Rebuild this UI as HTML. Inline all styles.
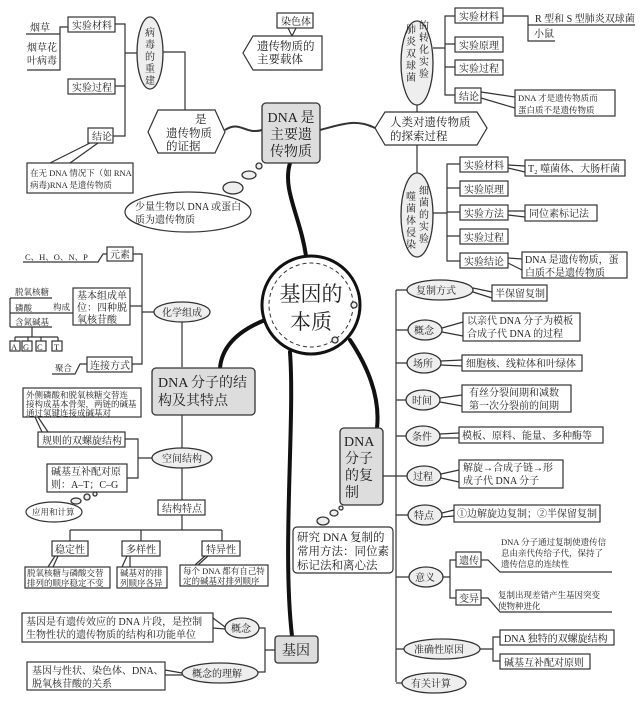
<!DOCTYPE html>
<html><head><meta charset="utf-8"><style>
html,body{margin:0;padding:0;background:#fff}
svg{display:block}
text{font-family:"Liberation Serif","Noto Serif CJK SC",serif;fill:#222}
.b{fill:#fff;stroke:#333;stroke-width:1.2}
.g{fill:#ddd;stroke:#333;stroke-width:1.3}
.e{fill:#eee;stroke:#333;stroke-width:1.3}
.l{fill:none;stroke:#333;stroke-width:1.2}
.t{fill:none;stroke:#111;stroke-width:4;stroke-linecap:round}
.s{font-size:10px}
.xs{font-size:8.5px}
.m{font-size:11.5px}
.L{font-size:14px}
</style></head><body>
<svg width="640" height="702" viewBox="0 0 640 702" xmlns="http://www.w3.org/2000/svg">
<path class="t" d="M290,163 C282,190 300,215 306,256"/>
<path class="t" d="M265,320 C240,330 222,345 220,368"/>
<path class="t" d="M290,352 C295,420 282,550 292,636"/>
<path class="t" d="M350,340 C370,370 380,400 377,428"/>
<path class="l" style="stroke-width:2" d="M225,130 C240,120 245,135 262,130"/>
<path class="l" style="stroke-width:2" d="M320,130 C340,125 355,118 375,128"/>

<circle cx="311" cy="305" r="49" fill="#fff" stroke="#111" stroke-width="3"/>
<circle cx="311" cy="305" r="42" fill="none" stroke="#333" stroke-width="1" stroke-dasharray="4,3"/>
<circle cx="354" cy="305" r="3" class="e"/><circle cx="335" cy="340" r="3" class="e"/>
<text x="311" y="301" text-anchor="middle" style="font-size:21px">基因的</text>
<text x="311" y="329" text-anchor="middle" style="font-size:21px">本质</text>

<text x="30" y="31" class="s">烟草</text><path class="l" d="M26,34H60"/>
<text x="27" y="51" class="s">烟草花</text><text x="27" y="64" class="s">叶病毒</text>
<path class="l" d="M27,70H60V27H68"/>
<rect x="68" y="17" width="47" height="15" class="b"/><text x="72" y="29" class="s">实验材料</text>
<rect x="68" y="79" width="47" height="15" class="b"/><text x="72" y="91" class="s">实验过程</text>
<rect x="88" y="128" width="25" height="15" class="b"/><text x="92" y="140" class="s">结论</text>
<path class="l" d="M115,24H125V136H113M115,86H125M125,53H137"/>
<path class="l" d="M90,143L50,163M98,143L70,163"/>
<rect x="27" y="163" width="106" height="30" class="b"/>
<text x="30" y="176" class="xs">在无 DNA 情况下（如 RNA</text><text x="30" y="188" class="xs">病毒)RNA 是遗传物质</text>
<ellipse cx="150" cy="53" rx="13" ry="36" class="e"/>
<text x="150" y="36" text-anchor="middle" class="s">病</text><text x="150" y="48" text-anchor="middle" class="s">毒</text><text x="150" y="60" text-anchor="middle" class="s">的</text><text x="150" y="72" text-anchor="middle" class="s">重</text><text x="150" y="84" text-anchor="middle" class="s">建</text>
<path class="l" d="M163,52H185V110"/>
<polygon points="158,110 215,110 225,132 215,153 158,153 148,132" class="b"/>
<text x="195" y="123" class="m">是</text><text x="166" y="137" class="m">遗传物质</text><text x="166" y="150" class="m">的证据</text>
<rect x="262" y="103" width="58" height="60" rx="4" class="g"/>
<text x="291" y="122" text-anchor="middle" class="L">DNA 是</text><text x="291" y="139" text-anchor="middle" class="L">主要遗</text><text x="291" y="156" text-anchor="middle" class="L">传物质</text>
<rect x="277" y="13" width="36" height="15" class="b"/><text x="281" y="25" class="s">染色体</text>
<path class="l" d="M288,28L292,36M296,28L292,36"/>
<polygon points="253,36 322,36 322,70 253,70 243,53" class="b"/>
<text x="257" y="50" class="m">遗传物质的</text><text x="257" y="63" class="m">主要载体</text>
<circle cx="259" cy="166" r="3" class="e"/><ellipse cx="249" cy="175" rx="7" ry="4" class="e"/><ellipse cx="233" cy="188" rx="10" ry="6" class="e"/>
<ellipse cx="188" cy="212" rx="63" ry="20" class="b"/>
<text x="135" y="210" class="s">少量生物以 DNA 或蛋白</text><text x="135" y="223" class="s">质为遗传物质</text>

<ellipse cx="417" cy="63" rx="16" ry="42" class="e"/>
<text x="411" y="33" text-anchor="middle" class="s">肺</text><text x="411" y="45" text-anchor="middle" class="s">炎</text><text x="411" y="57" text-anchor="middle" class="s">双</text><text x="411" y="69" text-anchor="middle" class="s">球</text><text x="411" y="81" text-anchor="middle" class="s">菌</text>
<text x="424" y="29" text-anchor="middle" class="s">的</text><text x="424" y="41" text-anchor="middle" class="s">转</text><text x="424" y="53" text-anchor="middle" class="s">化</text><text x="424" y="65" text-anchor="middle" class="s">实</text><text x="424" y="77" text-anchor="middle" class="s">验</text>
<path class="l" d="M433,48H445M455,16H445V95H455M445,44H455M445,67H455"/>
<rect x="455" y="8" width="48" height="15" class="b"/><text x="459" y="20" class="s">实验材料</text>
<rect x="455" y="37" width="48" height="15" class="b"/><text x="459" y="49" class="s">实验原理</text>
<rect x="455" y="60" width="48" height="15" class="b"/><text x="459" y="72" class="s">实验过程</text>
<rect x="455" y="88" width="26" height="15" class="b"/><text x="459" y="100" class="s">结论</text>
<path class="l" d="M503,16H528V41H555M528,25H635"/>
<text x="535" y="22" class="s">R 型和 S 型肺炎双球菌</text><text x="534" y="37" class="s">小鼠</text>
<path class="l" d="M481,92L515,97M481,98L515,108"/>
<rect x="515" y="90" width="100" height="26" class="b"/>
<text x="518" y="101" class="xs">DNA 才是遗传物质而</text><text x="518" y="113" class="xs">蛋白质不是遗传物质</text>
<path class="l" d="M417,105V112M417,145V174"/>
<polygon points="385,112 477,112 487,128 477,145 385,145 375,128" class="b"/>
<text x="390" y="126" class="m">人类对遗传物质</text><text x="390" y="140" class="m">的探索过程</text>
<ellipse cx="417" cy="215" rx="16" ry="42" class="e"/>
<text x="411" y="200" text-anchor="middle" class="s">噬</text><text x="411" y="212" text-anchor="middle" class="s">菌</text><text x="411" y="224" text-anchor="middle" class="s">体</text><text x="411" y="236" text-anchor="middle" class="s">侵</text><text x="411" y="248" text-anchor="middle" class="s">染</text>
<text x="424" y="194" text-anchor="middle" class="s">细</text><text x="424" y="206" text-anchor="middle" class="s">菌</text><text x="424" y="218" text-anchor="middle" class="s">的</text><text x="424" y="230" text-anchor="middle" class="s">实</text><text x="424" y="242" text-anchor="middle" class="s">验</text>
<path class="l" d="M433,213H447M460,164H447V261H460M447,188H460M447,212H460M447,236H460"/>
<rect x="460" y="157" width="48" height="15" class="b"/><text x="464" y="169" class="s">实验材料</text>
<rect x="460" y="181" width="48" height="15" class="b"/><text x="464" y="193" class="s">实验原理</text>
<rect x="460" y="205" width="48" height="15" class="b"/><text x="464" y="217" class="s">实验方法</text>
<rect x="460" y="229" width="48" height="15" class="b"/><text x="464" y="241" class="s">实验过程</text>
<rect x="460" y="253" width="48" height="15" class="b"/><text x="464" y="265" class="s">实验结论</text>
<path class="l" d="M508,165L525,166M508,168L525,172M508,211L525,211M508,215L525,217M508,258L522,259M508,263L522,270"/>
<rect x="525" y="160" width="100" height="16" class="b"/><text x="528" y="172" class="s">T₂ 噬菌体、大肠杆菌</text>
<rect x="525" y="205" width="72" height="16" class="b"/><text x="529" y="217" class="s">同位素标记法</text>
<rect x="522" y="252" width="105" height="26" class="b"/>
<text x="525" y="263" class="s">DNA 是遗传物质，蛋</text><text x="525" y="276" class="s">白质不是遗传物质</text>

<text x="25" y="260" class="xs">C、H、O、N、P</text><path class="l" d="M23,262H98L103,254H107"/>
<rect x="107" y="247" width="26" height="14" class="b"/><text x="110" y="258" class="s">元素</text>
<text x="15" y="295" class="xs">脱氧核糖</text><text x="15" y="311" class="xs">磷酸</text><text x="15" y="325" class="xs">含氮碱基</text>
<path class="l" d="M10,298H52M10,313H52M10,327H52M10,298V327M52,313H73"/>
<text x="53" y="310" class="xs">构成</text>
<path class="l" d="M32,327V337M15,337H58M15,337V341M28,337V341M41,337V341M58,337V341"/>
<rect x="10" y="341" width="10" height="10" class="b"/><text x="11" y="350" class="xs">A</text>
<rect x="22" y="341" width="10" height="10" class="b"/><text x="23" y="350" class="xs">G</text>
<rect x="36" y="341" width="10" height="10" class="b"/><text x="37" y="350" class="xs">C</text>
<rect x="52" y="341" width="10" height="10" class="b"/><text x="54" y="350" class="xs">T</text>
<rect x="73" y="288" width="57" height="37" class="b"/>
<text x="77" y="299" class="s">基本组成单</text><text x="77" y="311" class="s">位：四种脱</text><text x="77" y="323" class="s">氧核苷酸</text>
<rect x="87" y="357" width="45" height="15" class="b"/><text x="90" y="369" class="s">连接方式</text>
<text x="55" y="371" class="xs">聚合</text><path class="l" d="M52,374H75L80,364H87"/>
<path class="l" d="M133,254H142V364H132M130,306H142M142,312H154"/>
<ellipse cx="182" cy="312" rx="28" ry="10" class="e"/><text x="162" y="316" class="s">化学组成</text>
<path class="l" d="M182,322V367M182,415V448M182,468V500M182,515V530M70,530H222M70,530V541M141,530V541M222,530V541"/>
<rect x="152" y="368" width="103" height="47" rx="4" class="g"/>
<text x="158" y="387" class="L">DNA 分子的结</text><text x="158" y="405" class="L">构及其特点</text>
<rect x="23" y="388" width="118" height="29" class="b"/>
<text x="26" y="398" class="xs">外侧磷酸和脱氧核糖交替连</text><text x="26" y="407" class="xs">接构成基本骨架，两链的碱基</text><text x="26" y="416" class="xs">通过氢键连接成碱基对</text>
<path class="l" d="M35,417L42,432M38,417L48,432"/>
<rect x="38" y="432" width="87" height="15" class="b"/><text x="42" y="444" class="s">规则的双螺旋结构</text>
<path class="l" d="M125,439H138V478H127M138,458H152"/>
<ellipse cx="182" cy="458" rx="30" ry="10" class="e"/><text x="162" y="462" class="s">空间结构</text>
<rect x="47" y="464" width="80" height="28" class="b"/>
<text x="51" y="475" class="s">碱基互补配对原</text><text x="51" y="488" class="s">则：A–T；C–G</text>
<circle cx="95" cy="494" r="2" class="e"/><circle cx="87" cy="497" r="3" class="e"/><ellipse cx="76" cy="501" rx="5" ry="3" class="e"/>
<ellipse cx="54" cy="512" rx="28" ry="10" class="b"/><text x="32" y="515" class="xs">应用和计算</text>
<rect x="158" y="500" width="47" height="15" class="b"/><text x="162" y="512" class="s">结构特点</text>
<rect x="52" y="541" width="36" height="15" class="b"/><text x="55" y="553" class="s">稳定性</text>
<rect x="122" y="541" width="38" height="15" class="b"/><text x="126" y="553" class="s">多样性</text>
<rect x="202" y="541" width="38" height="15" class="b"/><text x="206" y="553" class="s">特异性</text>
<path class="l" d="M55,556L48,567M58,556L53,567M127,556L122,567M130,556L130,567M205,556L195,565M208,556L198,565"/>
<rect x="25" y="567" width="85" height="21" class="b"/><text x="27" y="576" class="xs">脱氧核糖与磷酸交替</text><text x="27" y="586" class="xs">排列的顺序稳定不变</text>
<rect x="117" y="567" width="50" height="21" class="b"/><text x="120" y="576" class="xs">碱基对的排</text><text x="120" y="586" class="xs">列顺序各异</text>
<rect x="180" y="565" width="88" height="21" class="b"/><text x="183" y="574" class="xs">每个 DNA 都有自己特</text><text x="183" y="584" class="xs">定的碱基对排列顺序</text>

<rect x="22" y="613" width="191" height="29" class="b"/>
<text x="26" y="625" class="s">基因是有遗传效应的 DNA 片段，是控制</text><text x="26" y="638" class="s">生物性状的遗传物质的结构和功能单位</text>
<path class="l" d="M213,618L225,627M213,628L225,629"/>
<ellipse cx="242" cy="628" rx="17" ry="10" class="e"/><text x="231" y="632" class="s">概念</text>
<path class="l" d="M259,628H265V672H258M265,650H275"/>
<rect x="275" y="636" width="43" height="27" rx="3" class="g"/><text x="282" y="655" class="L">基因</text>
<rect x="27" y="662" width="138" height="28" class="b"/>
<text x="32" y="674" class="s">基因与性状、染色体、DNA、</text><text x="32" y="687" class="s">脱氧核苷酸的关系</text>
<path class="l" d="M165,670L182,673M165,675L182,675"/>
<ellipse cx="220" cy="673" rx="38" ry="10" class="e"/><text x="192" y="677" class="s">概念的理解</text>

<path class="l" d="M396,290V682M396,290H407M396,330H408M396,363H407M396,400H406M396,436H406M396,476H407M396,515H408M396,577H409M396,649H404M396,683H402M383,476H396"/>
<ellipse cx="440" cy="290" rx="33" ry="10" class="e"/><text x="416" y="294" class="s">复制方式</text>
<ellipse cx="425" cy="330" rx="17" ry="10" class="e"/><text x="414" y="334" class="s">概念</text>
<ellipse cx="424" cy="363" rx="17" ry="10" class="e"/><text x="413" y="367" class="s">场所</text>
<ellipse cx="423" cy="400" rx="17" ry="10" class="e"/><text x="412" y="404" class="s">时间</text>
<ellipse cx="423" cy="436" rx="17" ry="10" class="e"/><text x="412" y="440" class="s">条件</text>
<ellipse cx="424" cy="476" rx="17" ry="10" class="e"/><text x="413" y="480" class="s">过程</text>
<ellipse cx="425" cy="515" rx="17" ry="10" class="e"/><text x="414" y="519" class="s">特点</text>
<ellipse cx="426" cy="577" rx="17" ry="10" class="e"/><text x="415" y="581" class="s">意义</text>
<ellipse cx="442" cy="649" rx="38" ry="10" class="e"/><text x="414" y="653" class="s">准确性原因</text>
<ellipse cx="434" cy="683" rx="32" ry="10" class="e"/><text x="411" y="687" class="s">有关计算</text>
<path class="l" d="M473,288L492,292M473,292L492,298M442,328L463,322M442,332L463,336M441,361L462,360M441,365L462,366M440,398L462,395M440,402L462,406M440,434L459,433M440,438L459,438M441,474L459,470M441,478L459,482M442,513L454,510M442,517L454,516"/>
<rect x="492" y="285" width="55" height="16" class="b"/><text x="495" y="297" class="s">半保留复制</text>
<rect x="463" y="313" width="117" height="28" class="b"/><text x="467" y="324" class="s">以亲代 DNA 分子为模板</text><text x="467" y="337" class="s">合成子代 DNA 的过程</text>
<rect x="462" y="355" width="120" height="16" class="b"/><text x="466" y="367" class="s">细胞核、线粒体和叶绿体</text>
<rect x="462" y="385" width="109" height="27" class="b"/><text x="469" y="396" class="s">有丝分裂间期和减数</text><text x="469" y="409" class="s">第一次分裂前的间期</text>
<rect x="459" y="427" width="144" height="16" class="b"/><text x="462" y="439" class="s">模板、原料、能量、多种酶等</text>
<rect x="459" y="460" width="104" height="28" class="b"/><text x="463" y="471" class="s">解旋→合成子链→形</text><text x="463" y="484" class="s">成子代 DNA 分子</text>
<rect x="454" y="505" width="146" height="17" class="b"/><text x="457" y="517" class="s">①边解旋边复制；②半保留复制</text>
<rect x="340" y="428" width="43" height="77" rx="4" class="g"/>
<text x="344" y="446" class="L">DNA</text><text x="345" y="463" class="L">分子</text><text x="345" y="480" class="L">的复</text><text x="345" y="497" class="L">制</text>
<circle cx="341" cy="508" r="2" class="e"/><ellipse cx="334" cy="513" rx="4" ry="3" class="e"/><ellipse cx="323" cy="521" rx="6" ry="4" class="e"/>
<rect x="293" y="527" width="100" height="46" rx="4" class="b"/>
<text x="297" y="541" class="m">研究 DNA 复制的</text><text x="297" y="555" class="m">常用方法：同位素</text><text x="297" y="569" class="m">标记法和离心法</text>
<path class="l" d="M443,577H450V598H456M450,577V560H456"/>
<rect x="456" y="552" width="25" height="15" class="b"/><text x="459" y="564" class="s">遗传</text>
<rect x="456" y="590" width="25" height="15" class="b"/><text x="459" y="602" class="s">变异</text>
<path class="l" d="M481,560H488L500,572H612M481,598H488L500,612H612"/>
<text x="501" y="545" class="xs">DNA 分子通过复制使遗传信</text><text x="501" y="556" class="xs">息由亲代传给子代，保持了</text><text x="501" y="567" class="xs">遗传信息的连续性</text>
<text x="498" y="598" class="xs">复制出现差错产生基因突变</text><text x="498" y="609" class="xs">使物种进化</text>
<path class="l" d="M480,649H493V637H500M493,649V661H500"/>
<rect x="500" y="630" width="114" height="15" class="b"/><text x="504" y="642" class="s">DNA 独特的双螺旋结构</text>
<rect x="500" y="654" width="90" height="15" class="b"/><text x="504" y="666" class="s">碱基互补配对原则</text>
</svg>
</body></html>
